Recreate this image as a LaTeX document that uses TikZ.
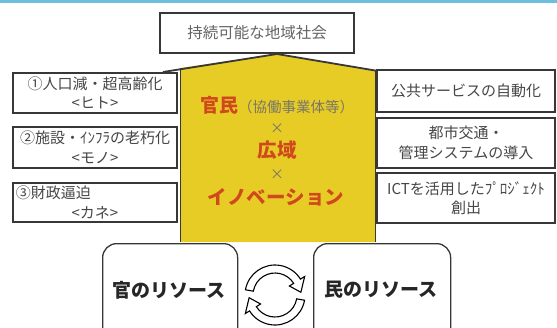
\documentclass[tikz,border=0pt]{standalone}
\usepackage{fontspec}
\newfontfamily\jp{Noto Sans CJK JP}
\definecolor{boxc}{RGB}{55,55,55}
\definecolor{txtc}{RGB}{70,70,70}
\definecolor{topc}{RGB}{100,100,100}
\definecolor{yel}{RGB}{232,204,38}
\definecolor{redc}{RGB}{208,72,30}
\definecolor{grayc}{RGB}{120,118,105}
\definecolor{bluec}{RGB}{110,190,222}
\begin{document}
\begin{tikzpicture}[x=1pt,y=-1pt,
  box/.style={draw=boxc, line width=1.4pt, fill=white, inner sep=2pt, align=center,
    text=txtc, font=\jp\fontsize{15pt}{19.5pt}\selectfont},
  resbox/.style={draw=boxc, line width=1.3pt, fill=white, rounded corners=14pt, anchor=north west},
  reslabel/.style={font=\jp\bfseries\fontsize{19pt}{22pt}\selectfont, text=black!85},
  redtxt/.style={font=\jp\bfseries\fontsize{19.5pt}{22pt}\selectfont, text=redc},
  times/.style={font=\jp\fontsize{14pt}{16pt}\selectfont, text=grayc},
  cyc/.style={draw=black, line width=1.1pt, fill=white, line join=miter}
]
\useasboundingbox (0,0) rectangle (557,327);
\clip (0,0) rectangle (557,327);
\fill[bluec] (0,0) rectangle (557,3);

% house
\fill[yel] (180,242) -- (180,68) -- (277,54) -- (375,70) -- (375,242) -- cycle;
\draw[boxc, line width=1pt] (180,68) -- (180,242);
\draw[boxc, line width=1pt] (375,70) -- (375,242);
\draw[boxc, line width=1.8pt] (163,72) -- (277,54) -- (390,73);

% top
\node[box, text=topc, font=\jp\fontsize{15.5pt}{19pt}\selectfont, minimum width=194pt, minimum height=40pt] (goal) at (257,33) {持続可能な地域社会};

% left
\node[box, minimum width=164pt, minimum height=40pt] (l1) at (95,93) {①人口減・超高齢化\\<ヒト>};
\node[box, minimum width=164pt, minimum height=41pt] (l2) at (95,147.5) {②施設・ｲﾝﾌﾗの老朽化\\<モノ>};
\node[box, minimum width=164pt, minimum height=39pt, text width=158pt, align=left] (l3) at (95,202.5) {③財政逼迫\\\makebox[\linewidth]{<カネ>}};

% right
\node[box, minimum width=178pt, minimum height=42pt] (r1) at (466,91) {公共サービスの自動化};
\node[box, minimum width=178pt, minimum height=50pt] (r2) at (466,143) {都市交通・\\管理システムの導入};
\node[box, minimum width=178pt, minimum height=50pt] (r3) at (466,198) {ICTを活用したﾌﾟﾛｼﾞｪｸﾄ\\創出};

% center text
\node[inner sep=0pt] (c1) at (277,105) {{\jp\bfseries\fontsize{19pt}{22pt}\selectfont\color{redc}官民}{\jp\fontsize{14.5pt}{16pt}\selectfont\color{grayc}（協働事業体等）}};
\node[times] (c2) at (277,129) {×};
\node[redtxt] (c3) at (277,150) {広域};
\node[times] (c4) at (277,175) {×};
\node[redtxt] (c5) at (276,197) {イノベーション};

% bottom
\node[resbox, minimum width=135pt, minimum height=110pt] (kan) at (102,243) {};
\node[reslabel] (kanl) at (169,290) {官のリソース};
\node[resbox, minimum width=137pt, minimum height=110pt] (min) at (313,243) {};
\node[reslabel] (minl) at (381,290) {民のリソース};

% cycle icon
\begin{scope}[shift={(275,295)}, yscale=-1]
  \draw[cyc] (170:30) arc[start angle=170, end angle=32, radius=30]
     -- (32:35) -- (6:26) -- (32:17) -- (32:22)
     arc[start angle=32, end angle=170, radius=22] -- cycle;
  \draw[cyc] (350:30) arc[start angle=350, end angle=212, radius=30]
     -- (212:35) -- (186:26) -- (212:17) -- (212:22)
     arc[start angle=212, end angle=350, radius=22] -- cycle;
\end{scope}
\end{tikzpicture}
\end{document}
